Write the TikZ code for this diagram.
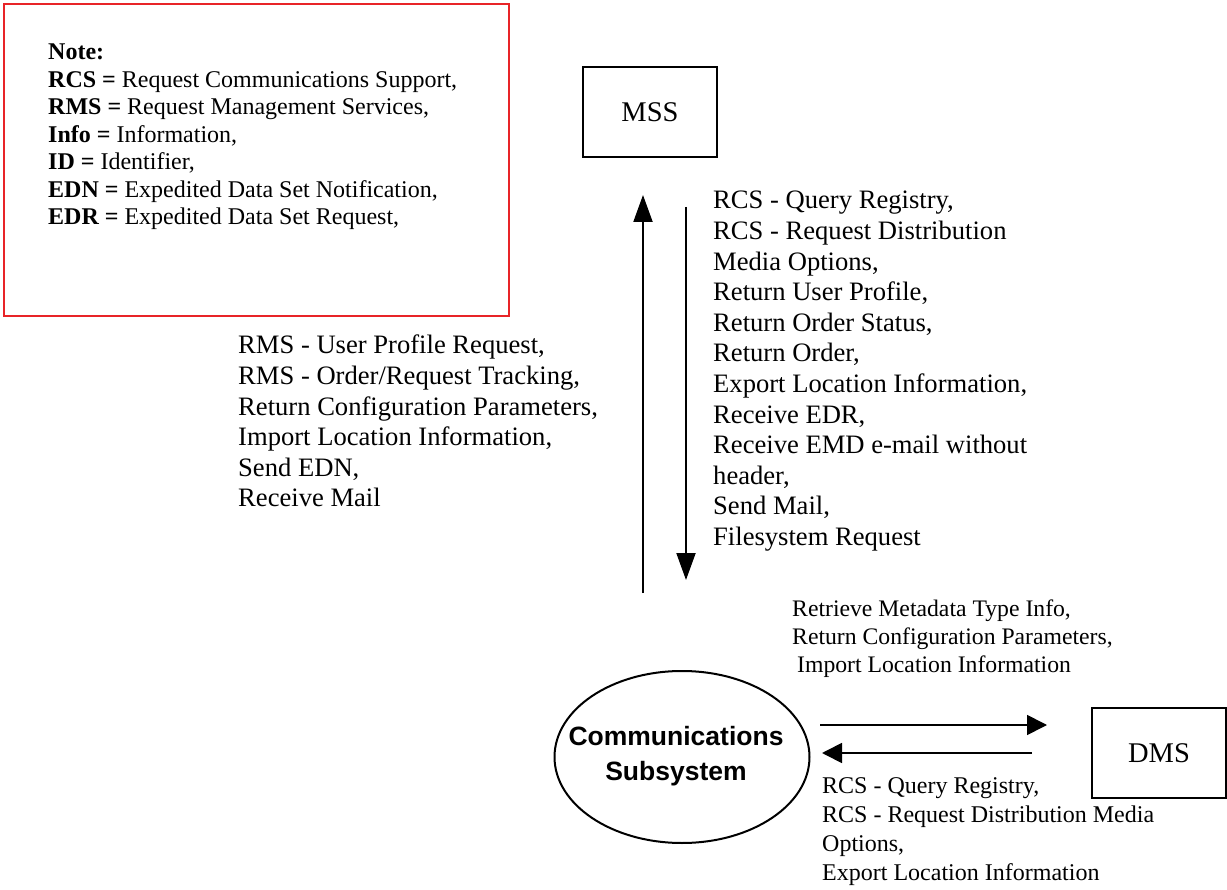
\documentclass[tikz,border=0pt]{standalone}
\usepackage{fontspec}
\setmainfont{Liberation Serif}
\newfontfamily\headsans{Liberation Sans}
\usetikzlibrary{arrows.meta,shapes.geometric}
\definecolor{notered}{RGB}{232,36,40}
% left-aligned stack of lines whose baseline is the first line's baseline
\newcommand{\linestack}[1]{\begin{tabular}[t]{@{}l@{}}#1\end{tabular}}

\begin{document}
\begin{tikzpicture}[x=1pt,y=-1pt,
  sysbox/.style={draw, line width=2pt, minimum width=134pt, minimum height=90pt,
    inner sep=0pt, font=\fontsize{28.5pt}{34pt}\selectfont},
  bigarrow/.style={line width=2pt, -{Triangle[length=27pt,width=19pt]}},
  smallarrow/.style={line width=1.7pt, -{Triangle[length=20pt,width=20pt]}},
  lbl/.style={anchor=base west, inner sep=0pt},
  bigtext/.style={font=\fontsize{26.6pt}{30.6pt}\selectfont},
]
\useasboundingbox (0,0) rectangle (1227,890);
\fill[white] (0,0) rectangle (1227,890);

% abbreviations panel
\node[draw=notered, line width=1.6pt, anchor=north west, minimum width=505pt,
  minimum height=312pt, inner sep=0pt] (notebox) at (3,3) {};
\node[lbl, font=\fontsize{24pt}{27.5pt}\selectfont] (note) at (48,60) {\linestack{%
  \textbf{Note:}\\
  \textbf{RCS =} Request Communications Support,\\
  \textbf{RMS =} Request Management Services,\\
  \textbf{Info =} Information,\\
  \textbf{ID =} Identifier,\\
  \textbf{EDN =} Expedited Data Set Notification,\\
  \textbf{EDR =} Expedited Data Set Request,}};

% subsystems
\node[sysbox] (mss) at (650,112) {MSS};
\node[sysbox] (dms) at (1159,753) {DMS};
\node[draw, ellipse, line width=2pt, minimum width=255pt, minimum height=172pt,
  inner sep=0pt] (comm) at (682,757) {};
\node[align=center, inner sep=0pt,
  font=\headsans\bfseries\fontsize{26.5pt}{35pt}\selectfont] (commLabel)
  at ([xshift=-6pt,yshift=1pt]comm.center) {Communications\\Subsystem};

% connector end points
\coordinate (upTail) at (643,593);
\coordinate (upHead) at (643,195);
\coordinate (downTail) at (686,207);
\coordinate (downHead) at (686,580);
\coordinate (rightTail) at (820,725);
\coordinate (rightHead) at (1047,725);
\coordinate (leftTail) at (1032,753);
\coordinate (leftHead) at (822,753);

\draw[bigarrow] (upTail) -- (upHead);
\draw[bigarrow] (downTail) -- (downHead);
\draw[smallarrow] (rightTail) -- (rightHead);
\draw[smallarrow] (leftTail) -- (leftHead);

% flow labels
\node[lbl, bigtext] (toMss) at (238,354) {\linestack{%
  RMS - User Profile Request,\\
  RMS - Order/Request Tracking,\\
  Return Configuration Parameters,\\
  Import Location Information,\\
  Send EDN,\\
  Receive Mail}};

\node[lbl, bigtext] (fromMss) at (713,209) {\linestack{%
  RCS - Query Registry,\\
  RCS - Request Distribution\\
  Media Options,\\
  Return User Profile,\\
  Return Order Status,\\
  Return Order,\\
  Export Location Information,\\
  Receive EDR,\\
  Receive EMD e-mail without\\
  header,\\
  Send Mail,\\
  Filesystem Request}};

\node[lbl, font=\fontsize{23.7pt}{28pt}\selectfont] (toDms) at (792,616) {\linestack{%
  Retrieve Metadata Type Info,\\
  Return Configuration Parameters,\\
  \hspace*{5pt}Import Location Information}};

\node[lbl, font=\fontsize{24pt}{29pt}\selectfont] (fromDms) at (822,793) {\linestack{%
  RCS - Query Registry,\\
  RCS - Request Distribution Media\\
  Options,\\
  Export Location Information}};
\end{tikzpicture}
\end{document}
